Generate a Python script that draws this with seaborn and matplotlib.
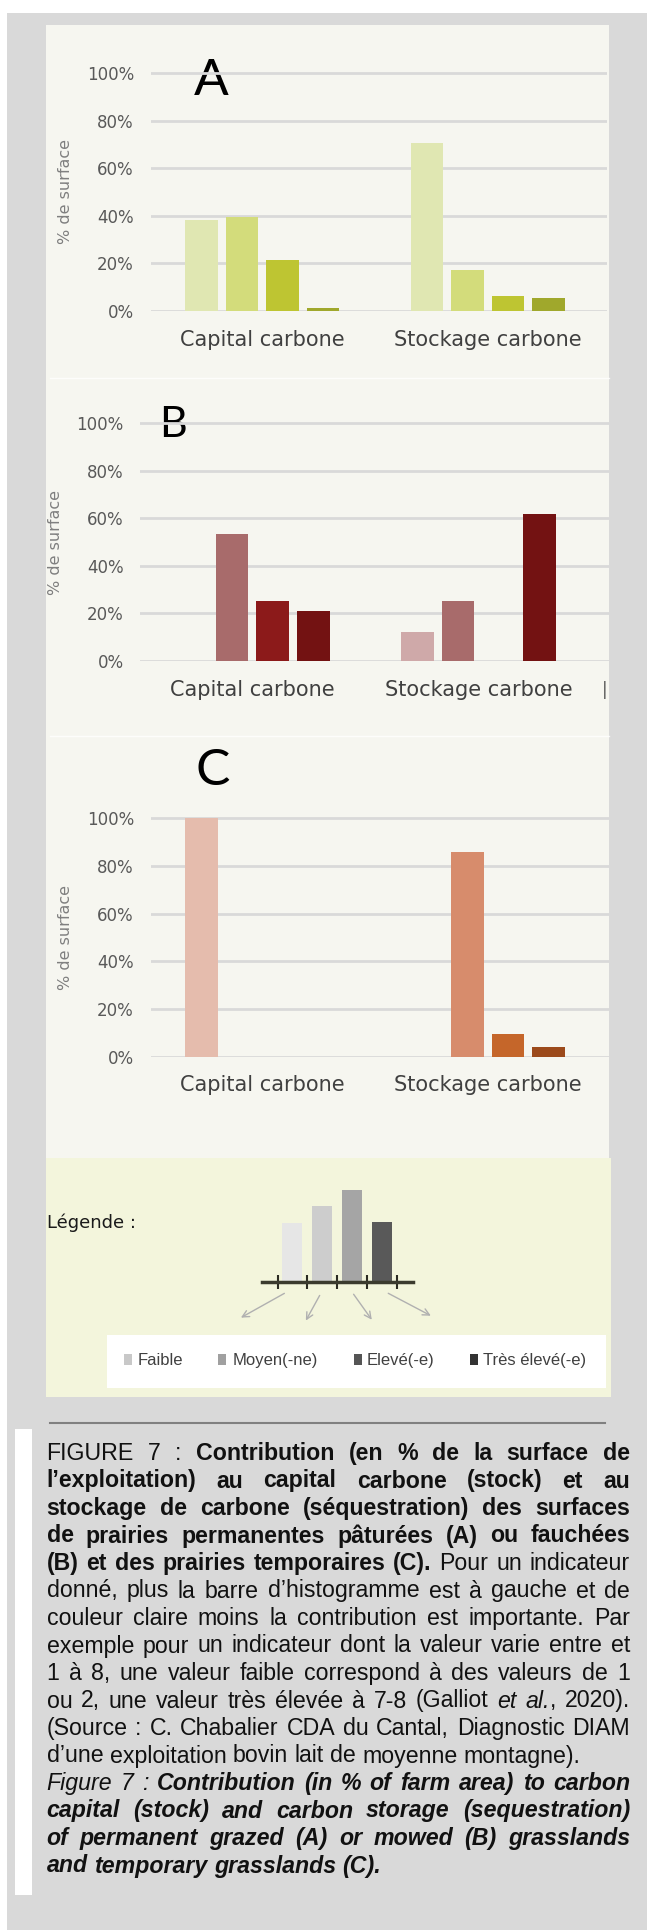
import matplotlib
matplotlib.use("Agg")
import matplotlib.pyplot as plt
from matplotlib.patches import Rectangle
import numpy as np
import pandas as pd
import seaborn as sns

# ---- data ----
categories = ["Capital carbone", "Stockage carbone"]
levels = ["Faible", "Moyen(-ne)", "Elevé(-e)", "Très élevé(-e)"]

a_capital = [38.3, 39.4, 21.4, 1.4]
a_stockage = [70.6, 17.1, 6.4, 5.4]
b_capital = [0, 53.4, 25.1, 21.2]
b_stockage = [12.3, 25.1, 0, 61.8]
c_capital = [100, 0, 0, 0]
c_stockage = [0, 86.0, 9.5, 4.2]

a_colors = ["#e0e7b2", "#d3dc7b", "#bec532", "#a0a82c"]
b_colors = ["#cfa9a9", "#a86b6b", "#8c1a1a", "#731212"]
c_colors = ["#e5bcad", "#d78c6c", "#c5662a", "#9c4a1b"]

legend_heights = [59, 76, 92, 60]
legend_colors = ["#e6e6e6", "#cdcdcd", "#a5a5a5", "#595959"]
legend_marks = ["#c8c8c8", "#a0a0a0", "#555555", "#333333"]

yticks = [0, 20, 40, 60, 80, 100]

caption = [
    [("r", "FIGURE 7 : "), ("b", "Contribution (en % de la surface de")],
    [("b", "l’exploitation) au capital carbone (stock) et au")],
    [("b", "stockage de carbone (séquestration) des surfaces")],
    [("b", "de prairies permanentes pâturées (A) ou fauchées")],
    [("b", "(B) et des prairies temporaires (C). "), ("r", "Pour un indicateur")],
    [("r", "donné, plus la barre d’histogramme est à gauche et de")],
    [("r", "couleur claire moins la contribution est importante. Par")],
    [("r", "exemple pour un indicateur dont la valeur varie entre et")],
    [("r", "1 à 8, une valeur faible correspond à des valeurs de 1")],
    [("r", "ou 2, une valeur très élevée à 7-8 (Galliot "), ("i", "et al."), ("r", ", 2020).")],
    [("r", "(Source : C. Chabalier CDA du Cantal, Diagnostic DIAM")],
    [("r", "d’une exploitation bovin lait de moyenne montagne).")],
    [("i", "Figure 7 : "), ("bi", "Contribution (in % of farm area) to carbon")],
    [("bi", "capital (stock) and carbon storage (sequestration)")],
    [("bi", "of permanent grazed (A) or mowed (B) grasslands")],
    [("bi", "and temporary grasslands (C).")],
]
last_lines = [11, 15]

W, H = 647, 1930
plt.rcParams['font.family'] = 'DejaVu Sans'
fig = plt.figure(figsize=(W / 100, H / 100), dpi=100, facecolor="white")


def fig_rect(x0, y_top, x1, y_bot):
    return [x0 / W, 1 - y_bot / H, (x1 - x0) / W, (y_bot - y_top) / H]


# background layer in pixel coordinates
bg = fig.add_axes([0, 0, 1, 1], zorder=0)
bg.set_xlim(0, W)
bg.set_ylim(H, 0)
bg.axis("off")

bg.add_patch(Rectangle((7, 13), W - 7, H - 13, color="#d9d9d9", lw=0))
bg.add_patch(Rectangle((46, 25), 609 - 46, 1158 - 25, color="#f6f6f0", lw=0))
bg.add_patch(Rectangle((46, 1158), 611 - 46, 1397 - 1158, color="#f3f5dc", lw=0))
for yy in [378, 736]:
    bg.plot([50, 609], [yy, yy], color="white", lw=1, alpha=0.8)


def draw_panel(cap, sto, colors, x0, x1, y0, y100, xmax, ylab_x, letter, lx, lbase, lfs):
    df = pd.DataFrame({"indicateur": np.repeat(categories, len(levels)),
                       "niveau": levels * 2,
                       "valeur": cap + sto})
    ppu = (y0 - y100) / 100
    ytop = y0 - 105 * ppu
    ax = fig.add_axes(fig_rect(x0, ytop, x1, y0), zorder=2)
    ax.set_facecolor("none")
    sns.barplot(data=df, x="indicateur", y="valeur", hue="niveau", hue_order=levels,
                palette=colors, width=0.72, gap=0.2, saturation=1, errorbar=None,
                linewidth=0, legend=False, ax=ax)
    ax.set_xlim(-0.495, xmax)
    ax.set_ylim(0, 105)
    ax.set_yticks(yticks)
    ax.set_yticklabels([f"{v}%" for v in yticks])
    ax.grid(axis="y", color="#d9d9d9", lw=2)
    ax.set_axisbelow(True)
    for s in ax.spines.values():
        s.set_visible(False)
    ax.tick_params(axis="y", length=0, labelsize=12, labelcolor="#595959", pad=12)
    ax.tick_params(axis="x", length=0, labelsize=15, labelcolor="#404040", pad=13.5)
    ax.set_xlabel("")
    ax.set_ylabel("% de surface", fontsize=11.5, color="#7f7f7f", va="center")
    ax.yaxis.set_label_coords((ylab_x - x0) / (x1 - x0), (y0 - (y0 + y100) / 2) / (y0 - ytop))
    bg.text(lx, lbase, letter, fontsize=lfs, family="Lato", fontweight="normal",
            color="black", ha="left", va="baseline")
    return ax


draw_panel(a_capital, a_stockage, a_colors, 150.6, 606.6, 311, 73, 1.527, 66, "A", 194, 95, 37)
draw_panel(b_capital, b_stockage, b_colors, 140.3, 608.6, 661, 423.3, 1.575, 56, "B", 159, 437, 31)
draw_panel(c_capital, c_stockage, c_colors, 150.6, 608.6, 1056.7, 818.3, 1.536, 66, "C", 196, 785, 37)
bg.text(605, 690, "|", fontsize=12, color="#555555", ha="center", va="center")

# ---- legend panel ----
bg.text(46.6, 1228, "Légende :", fontsize=13, color="#1a1a1a", ha="left", va="baseline")
lax = fig.add_axes(fig_rect(262, 1180, 412.6, 1282), zorder=2)
lax.set_facecolor("none")
sns.barplot(x=levels, y=legend_heights, hue=levels, palette=legend_colors, width=0.67,
            saturation=1, linewidth=0, legend=False, ax=lax)
lax.set_xlim(-1.02, 4.02)
lax.set_ylim(0, 102)
lax.set_xticks([-0.5, 0.5, 1.5, 2.5, 3.5])
lax.set_xticklabels([])
lax.set_yticks([])
lax.tick_params(axis="x", direction="inout", length=10, width=1.5, color="#2b2b22")
for side in ["top", "right", "left"]:
    lax.spines[side].set_visible(False)
lax.spines["bottom"].set_linewidth(2.5)
lax.spines["bottom"].set_color("#3b3b2e")

arrows = [((286.8, 1292), (238.5, 1319)), ((321, 1293), (304.5, 1323)),
          ((352, 1292), (373.4, 1322)), ((385.8, 1292), (433.3, 1317))]
for start, end in arrows:
    bg.annotate("", xy=end, xytext=start,
                arrowprops=dict(arrowstyle="->", color="#b0b0b0", lw=1, mutation_scale=12))

bg.add_patch(Rectangle((106.5, 1335), 605.7 - 106.5, 1388 - 1335, color="white", lw=0))
mark_x = [123.8, 217.9, 354, 469.6]
text_x = [138, 233, 367, 482.8]
for lab, col, mx, tx in zip(levels, legend_marks, mark_x, text_x):
    bg.add_patch(Rectangle((mx, 1354), 8, 11, color=col, lw=0))
    bg.text(tx, 1365, lab, fontsize=12, family="Liberation Sans", color="#404040",
            ha="left", va="baseline")

# ---- caption ----
bg.plot([49.5, 604.5], [1423, 1423], color="#808080", lw=1.5)
bg.add_patch(Rectangle((15.3, 1429), 32.2 - 15.3, 1895 - 1429, color="white", lw=0))

styles = {"r": dict(fontweight="normal", fontstyle="normal"),
          "b": dict(fontweight="bold", fontstyle="normal"),
          "i": dict(fontweight="normal", fontstyle="italic"),
          "bi": dict(fontweight="bold", fontstyle="italic")}
cap_fs = 16.7
cap_x0, cap_x1 = 46.6, 630.0
base0, step = 1460, 27.5
renderer = fig.canvas.get_renderer()


def split_words(segments):
    words = [[]]
    for st, s in segments:
        parts = s.split(" ")
        for k, p in enumerate(parts):
            if k > 0:
                words.append([])
            if p:
                words[-1].append((p, st))
    return [w for w in words if w]


space_t = bg.text(0, 0, "a a", fontsize=cap_fs, family="Liberation Sans")
nospace_t = bg.text(0, 0, "aa", fontsize=cap_fs, family="Liberation Sans")
space_w = (space_t.get_window_extent(renderer).width
           - nospace_t.get_window_extent(renderer).width)
space_t.remove()
nospace_t.remove()

for i, segs in enumerate(caption):
    y = base0 + i * step
    words = split_words(segs)
    placed = []
    total = 0
    for w in words:
        pieces = []
        for txt, st in w:
            t = bg.text(0, y, txt, fontsize=cap_fs, family="Liberation Sans",
                        color="#111111", ha="left", va="baseline", **styles[st])
            pw = t.get_window_extent(renderer).width
            pieces.append((t, pw))
            total += pw
        placed.append(pieces)
    if i in last_lines or len(placed) < 2:
        gap = space_w
    else:
        gap = (cap_x1 - cap_x0 - total) / (len(placed) - 1)
    x = cap_x0
    for pieces in placed:
        for t, pw in pieces:
            t.set_x(x)
            x += pw
        x += gap

fig.savefig("out.png", dpi=100, facecolor=fig.get_facecolor())
